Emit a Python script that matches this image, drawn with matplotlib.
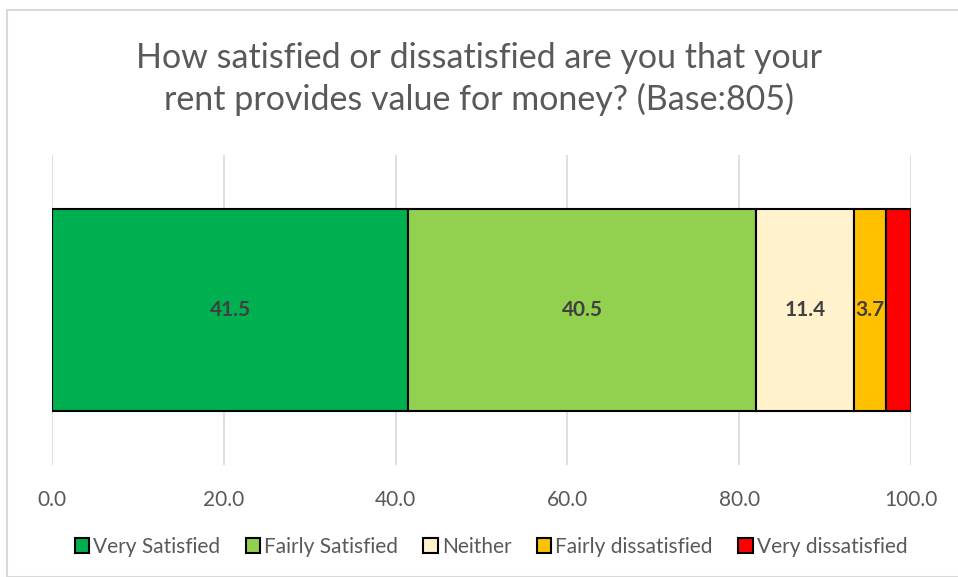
import matplotlib.pyplot as plt
from matplotlib.patches import Rectangle

# data
categories = ["Very Satisfied", "Fairly Satisfied", "Neither", "Fairly dissatisfied", "Very dissatisfied"]
values = [41.5, 40.5, 11.4, 3.7, 2.9]
labels = ["41.5", "40.5", "11.4", "3.7", ""]
colors = ["#00B050", "#92D050", "#FFF2CC", "#FFC000", "#FF0000"]
ticks = [0, 20, 40, 60, 80, 100]

plt.rcParams['font.family'] = ['Lato', 'DejaVu Sans']
txt = "#595959"

fig = plt.figure(figsize=(9.58, 5.77), dpi=100)
ax = fig.add_axes([52/958, 1-465/577, 859/958, 310/577])

# light frame around the chart area
fig.patches.append(Rectangle((7/958, 0), 1, 1 - 10/577, transform=fig.transFigure,
                             fill=False, edgecolor="#D9D9D9", linewidth=1.5))

left = 0
for cat, v, lab, c in zip(categories, values, labels, colors):
    ax.barh(0, v, left=left, height=0.65, color=c, edgecolor="black", linewidth=1.5, label=cat, zorder=3)
    if lab:
        ax.text(left + v/2, 0, lab, ha="center", va="center", fontsize=15,
                fontweight="bold", color="#404040", zorder=4)
    left += v

ax.set_xlim(0, 100)
ax.set_ylim(-0.5, 0.5)
ax.set_xticks(ticks)
ax.set_xticklabels([f"{t:.1f}" for t in ticks], fontsize=15, color=txt)
ax.set_yticks([])
ax.tick_params(axis="x", length=0, pad=18)
ax.grid(axis="x", color="#D9D9D9", linewidth=1.2, zorder=0)
for s in ax.spines.values():
    s.set_visible(False)

fig.text(0.5, 1-79/577, "How satisfied or dissatisfied are you that your\nrent provides value for money? (Base:805)",
         ha="center", va="center", fontsize=24.5, color=txt, linespacing=1.35)

fig.legend(loc="center", bbox_to_anchor=(491/958, 1-547/577), ncol=5, frameon=False,
           fontsize=15, labelcolor=txt, handlelength=0.7, handleheight=0.7,
           handletextpad=0.2, columnspacing=1.2)

fig.savefig("out.png", dpi=100)
